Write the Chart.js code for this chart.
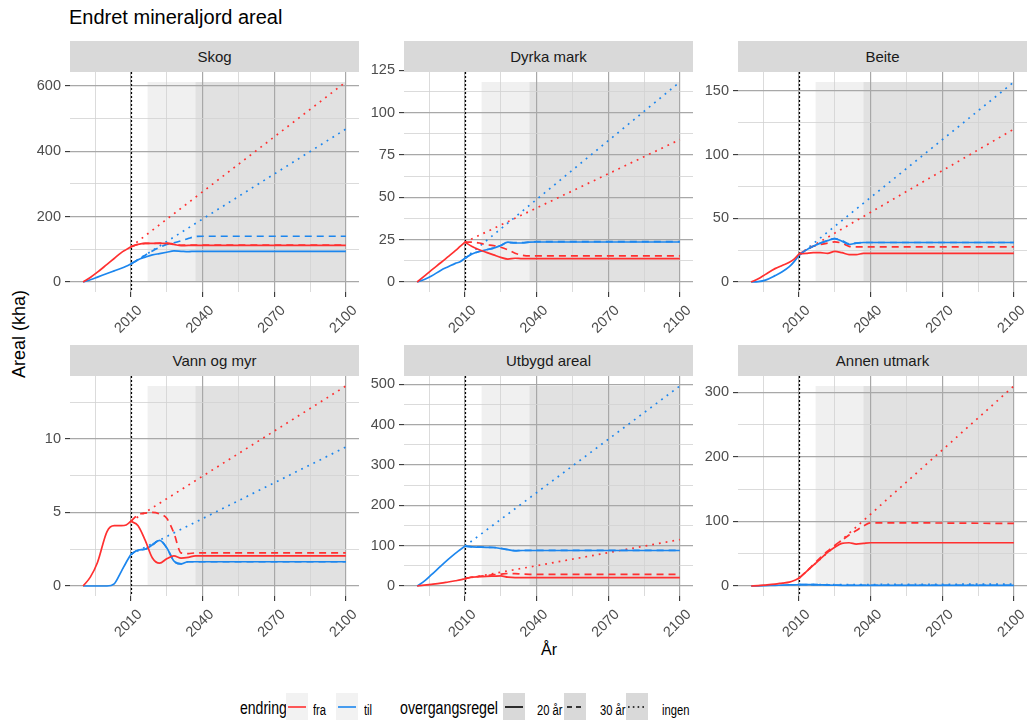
<!DOCTYPE html>
<html>
<head>
<meta charset="utf-8">
<script src="https://cdn.jsdelivr.net/npm/chart.js@4.4.1/dist/chart.umd.min.js"></script>
<style>
  body { margin: 0; width: 1027px; height: 720px; overflow: hidden; background: #fff; position: relative;
         font-family: "Liberation Sans", Arial, sans-serif; }
  canvas { position: absolute; }
  .strip { position: absolute; background: #d9d9d9; color: #1a1a1a; font-size: 15px; text-align: center; height: 31px; line-height: 31px; }
  .txt { position: absolute; white-space: nowrap; line-height: 1.15; }
  .leg { position: absolute; white-space: nowrap; line-height: 1.15; transform: scaleX(0.8); transform-origin: 0 0; color: #000; }
  .key { position: absolute; top: 693px; width: 22px; height: 28px; }
</style>
</head>
<body>
<div class="txt" style="left:69px;top:6px;font-size:20px;color:#000">Endret mineraljord areal</div>
<div class="txt" style="left:549px;top:641px;font-size:16px;color:#000;transform:translateX(-50%)">År</div>
<div class="txt" style="left:19px;top:334px;font-size:18px;color:#000;transform:translate(-50%,-50%) rotate(-90deg)">Areal (kha)</div>

<div class="leg" style="left:240px;top:698px;font-size:18px;transform:scaleX(0.78)">endring</div>
<div class="key" style="left:286px;background:#f2f2f2"><svg width="22" height="28"><line x1="2" x2="20" y1="14" y2="14" stroke="#ff3030" stroke-width="1.6"/></svg></div>
<div class="leg" style="left:313px;top:702px;font-size:14px">fra</div>
<div class="key" style="left:336px;background:#f2f2f2"><svg width="22" height="28"><line x1="2" x2="20" y1="14" y2="14" stroke="#1c86ee" stroke-width="1.6"/></svg></div>
<div class="leg" style="left:364px;top:702px;font-size:14px">til</div>
<div class="leg" style="left:400px;top:698px;font-size:18px;transform:scaleX(0.79)">overgangsregel</div>
<div class="key" style="left:503px;background:#d9d9d9"><svg width="22" height="28"><line x1="2" x2="20" y1="14" y2="14" stroke="#000" stroke-width="1.6"/></svg></div>
<div class="leg" style="left:537px;top:702px;font-size:14px">20 år</div>
<div class="key" style="left:564px;background:#d9d9d9"><svg width="22" height="28"><line x1="3" x2="20" y1="14" y2="14" stroke="#000" stroke-width="1.6" stroke-dasharray="5 4"/></svg></div>
<div class="leg" style="left:600px;top:702px;font-size:14px">30 år</div>
<div class="key" style="left:626px;background:#d9d9d9"><svg width="22" height="28"><line x1="2" x2="21" y1="14" y2="14" stroke="#000" stroke-width="1.6" stroke-dasharray="1.6 3.2"/></svg></div>
<div class="leg" style="left:662px;top:702px;font-size:14px">ingen</div>

<script>
// years
const histYears = [1990, 1993, 1996, 2000, 2003, 2006, 2008, 2010];
const futYears = [2010, 2013, 2016, 2019, 2022, 2025, 2028, 2031, 2034, 2037, 2040, 2100];
const ingenYears = [2010, 2100];
const xMajor = [2010, 2040, 2070, 2100];
const xMinor = [1995, 2025, 2055, 2085];
const shadeYears = [2017, 2037, 2100];

// Skog
const skogFraHist = [0, 14, 30, 54, 72, 90, 99, 108];
const skogTilHist = [0, 7, 15, 26, 34, 42, 48, 55];
const skogFra20 = [108, 115, 118, 118, 118, 118, 115, 111, 112, 112, 112, 112];
const skogFra30 = [108, 115, 118, 118, 119, 119, 116, 113, 113, 113, 113, 113];
const skogTil20 = [55, 68, 76, 83, 87, 91, 95, 94, 93, 94, 94, 94];
const skogTil30 = [55, 68, 82, 95, 106, 115, 120, 126, 133, 139, 140, 140];
const skogFraIngen = [108, 612];
const skogTilIngen = [55, 468];
const skogMajor = [0, 200, 400, 600];
const skogMinor = [100, 300, 500];

// Dyrka mark
const dyrkaFraHist = [0, 3.5, 7, 11.5, 15, 18.5, 21, 23.5];
const dyrkaTilHist = [0, 1.5, 3.5, 7, 9, 11, 12, 14];
const dyrkaFra20 = [23.5, 21, 19, 17.5, 16, 14.5, 13.5, 14, 13.8, 13.8, 13.8, 13.8];
const dyrkaFra30 = [23.5, 23.5, 23, 22, 21.5, 20.5, 19, 17, 15.8, 15.4, 15.4, 15.4];
const dyrkaTil20 = [14, 16.5, 18, 19, 20, 21.5, 23.5, 23, 23, 23.5, 23.6, 23.6];
const dyrkaTil30 = [14, 16.5, 18, 19, 20, 21.5, 23.3, 23.2, 23.3, 23.6, 23.8, 23.8];
const dyrkaFraIngen = [23.5, 84];
const dyrkaTilIngen = [14, 118];
const dyrkaMajor = [0, 25, 50, 75, 100, 125];
const dyrkaMinor = [12.5, 37.5, 62.5, 87.5, 112.5];

// Beite
const beiteFraHist = [0, 2.5, 6, 10.5, 13, 15.5, 18, 22];
const beiteTilHist = [0, 0.3, 1.5, 5, 8, 12, 16, 21];
const beiteFra20 = [22, 22.5, 23, 23, 22.5, 24, 23, 21.5, 21.5, 22.4, 22.4, 22.4];
const beiteFra30 = [22, 25, 28, 29.5, 30.5, 31.5, 30.5, 28, 27.5, 27.6, 27.6, 27.6];
const beiteTil20 = [21, 25, 28, 30.5, 32.5, 34, 32, 29.5, 30.5, 31, 31, 31];
const beiteTil30 = [21, 25, 28, 30.5, 32.5, 34, 32.5, 30, 30.5, 31, 31, 31];
const beiteFraIngen = [22, 120];
const beiteTilIngen = [21, 157];
const beiteMajor = [0, 50, 100, 150];
const beiteMinor = [25, 75, 125];

// Vann og myr
const vannFraHist = [0, 0.6, 1.6, 3.7, 4.1, 4.1, 4.15, 4.4];
const vannTilHist = [0, 0, 0, 0, 0.15, 1.0, 1.6, 2.15];
const vannFra20 = [4.4, 4.1, 3.1, 1.9, 1.55, 1.85, 2.05, 1.9, 1.95, 2.05, 2.05, 2.05];
const vannFra30 = [4.4, 4.85, 4.95, 5.0, 4.9, 4.6, 3.6, 2.25, 2.2, 2.25, 2.25, 2.25];
const vannTil20 = [2.15, 2.45, 2.5, 2.8, 3.1, 2.6, 1.7, 1.5, 1.65, 1.65, 1.65, 1.65];
const vannTil30 = [2.15, 2.45, 2.5, 2.8, 3.1, 2.6, 1.7, 1.5, 1.65, 1.65, 1.65, 1.65];
const vannFraIngen = [4.4, 13.6];
const vannTilIngen = [2.15, 9.45];
const vannMajor = [0, 5, 10];
const vannMinor = [2.5, 7.5, 12.5];

// Utbygd areal
const utbygdFraHist = [0, 2, 4, 7, 10, 13, 15, 18];
const utbygdTilHist = [0, 12, 28, 50, 66, 81, 90, 99];
const utbygdFra20 = [18, 22, 23, 24, 24.5, 25, 22, 21, 21, 21, 21, 21];
const utbygdFra30 = [18, 22, 24, 26, 28, 29.5, 31, 30.5, 29.5, 29, 29, 29];
const utbygdTil20 = [99, 97, 96.5, 96, 95.5, 93, 90, 87, 88, 88, 88, 88];
const utbygdTil30 = [99, 97, 96.5, 96, 95.5, 93.5, 90.5, 88, 88, 88.5, 88.5, 88.5];
const utbygdFraIngen = [18, 115];
const utbygdTilIngen = [99, 496];
const utbygdMajor = [0, 100, 200, 300, 400, 500];
const utbygdMinor = [50, 150, 250, 350, 450];

// Annen utmark
const annenFraHist = [0, 0.5, 1.5, 3, 4.5, 6, 8.5, 12];
const annenTilHist = [0, 0.3, 0.6, 1, 1.3, 1.6, 1.8, 2];
const annenFra20 = [12, 22, 32, 42, 52, 60, 66, 67, 65, 66, 67, 67];
const annenFra30 = [12, 22, 33, 44, 54, 63, 71, 79, 86, 93, 98, 97];
const annenTil20 = [2, 2, 2, 1.8, 1.5, 1.2, 1, 1, 1, 1, 1, 1];
const annenTil30 = [2, 2, 2, 2, 1.8, 1.5, 1.2, 1.2, 1.2, 1.2, 1.2, 1.2];
const annenFraIngen = [12, 310];
const annenTilIngen = [2, 3];
const annenMajor = [0, 100, 200, 300];
const annenMinor = [50, 150, 250];

const panels = [
  { name: 'Skog', fraHist: skogFraHist, tilHist: skogTilHist, fra20: skogFra20, fra30: skogFra30, til20: skogTil20, til30: skogTil30, fraIngen: skogFraIngen, tilIngen: skogTilIngen, major: skogMajor, minor: skogMinor },
  { name: 'Dyrka mark', fraHist: dyrkaFraHist, tilHist: dyrkaTilHist, fra20: dyrkaFra20, fra30: dyrkaFra30, til20: dyrkaTil20, til30: dyrkaTil30, fraIngen: dyrkaFraIngen, tilIngen: dyrkaTilIngen, major: dyrkaMajor, minor: dyrkaMinor },
  { name: 'Beite', fraHist: beiteFraHist, tilHist: beiteTilHist, fra20: beiteFra20, fra30: beiteFra30, til20: beiteTil20, til30: beiteTil30, fraIngen: beiteFraIngen, tilIngen: beiteTilIngen, major: beiteMajor, minor: beiteMinor },
  { name: 'Vann og myr', fraHist: vannFraHist, tilHist: vannTilHist, fra20: vannFra20, fra30: vannFra30, til20: vannTil20, til30: vannTil30, fraIngen: vannFraIngen, tilIngen: vannTilIngen, major: vannMajor, minor: vannMinor },
  { name: 'Utbygd areal', fraHist: utbygdFraHist, tilHist: utbygdTilHist, fra20: utbygdFra20, fra30: utbygdFra30, til20: utbygdTil20, til30: utbygdTil30, fraIngen: utbygdFraIngen, tilIngen: utbygdTilIngen, major: utbygdMajor, minor: utbygdMinor },
  { name: 'Annen utmark', fraHist: annenFraHist, tilHist: annenTilHist, fra20: annenFra20, fra30: annenFra30, til20: annenTil20, til30: annenTil30, fraIngen: annenFraIngen, tilIngen: annenTilIngen, major: annenMajor, minor: annenMinor },
];

const RED = '#ff3030';
const BLUE = '#1c86ee';
const DASH = [7, 5];
const DOT = [1.8, 5];
const FAMILY = "'Liberation Sans', Arial, sans-serif";

const colLeft = [70, 404, 738];
const rowTop = [72, 376];
const panelW = 289, panelH = 220, axisW = 50, axisH = 45, padTop = 12, padRight = 6;

Chart.defaults.font.family = FAMILY;

// shaded transition periods + dotted 2010 line
const bands = {
  id: 'bands',
  beforeDraw(chart, args, opts) {
    const { ctx, scales: { x, y } } = chart;
    const yTop = y.getPixelForValue(opts.top);
    const yBot = y.getPixelForValue(0);
    const x0 = x.getPixelForValue(shadeYears[0]);
    const x1 = x.getPixelForValue(shadeYears[1]);
    const x2 = x.getPixelForValue(shadeYears[2]);
    ctx.save();
    ctx.fillStyle = '#f0f0f0';
    ctx.fillRect(x0, yTop, x1 - x0, yBot - yTop);
    ctx.fillStyle = '#e1e1e1';
    ctx.fillRect(x1, yTop, x2 - x1, yBot - yTop);
    ctx.restore();
  },
  beforeDatasetsDraw(chart) {
    const { ctx, chartArea: a, scales: { x } } = chart;
    const px = Math.round(x.getPixelForValue(2010)) + 0.5;
    ctx.save();
    ctx.strokeStyle = '#000';
    ctx.lineWidth = 1.2;
    ctx.setLineDash([2, 2]);
    ctx.beginPath();
    ctx.moveTo(px, a.top);
    ctx.lineTo(px, a.bottom);
    ctx.stroke();
    ctx.restore();
  }
};

function series(xs, ys) {
  return xs.map((x, k) => ({ x: x, y: ys[k] }));
}

function line(data, color, dash, mode) {
  return { data: data, borderColor: color, borderWidth: 1.7, borderDash: dash, pointRadius: 0,
           cubicInterpolationMode: mode, fill: false };
}

panels.forEach((p, i) => {
  const left = colLeft[i % 3];
  const top = rowTop[Math.floor(i / 3)];

  const canvas = document.createElement('canvas');
  canvas.width = axisW + panelW + padRight;
  canvas.height = padTop + panelH + axisH;
  canvas.style.left = (left - axisW) + 'px';
  canvas.style.top = (top - padTop) + 'px';
  document.body.appendChild(canvas);

  const strip = document.createElement('div');
  strip.className = 'strip';
  strip.style.left = left + 'px';
  strip.style.top = (top - 31) + 'px';
  strip.style.width = panelW + 'px';
  strip.textContent = p.name;
  document.body.appendChild(strip);

  const all = [].concat(p.fraHist, p.tilHist, p.fra20, p.fra30, p.til20, p.til30, p.fraIngen, p.tilIngen);
  const yMax = Math.max(...all);
  const yMin = Math.min(0, ...all);
  const span = yMax - yMin;
  const yTicks = p.major.concat(p.minor).sort((a, b) => a - b);
  const xTicks = xMajor.concat(xMinor).sort((a, b) => a - b);

  new Chart(canvas, {
    type: 'line',
    data: {
      datasets: [
        line(series(histYears, p.fraHist), RED, [], 'monotone'),
        line(series(histYears, p.tilHist), BLUE, [], 'monotone'),
        line(series(futYears, p.fra20), RED, [], 'monotone'),
        line(series(futYears, p.til20), BLUE, [], 'monotone'),
        line(series(futYears, p.fra30), RED, DASH, 'monotone'),
        line(series(futYears, p.til30), BLUE, DASH, 'monotone'),
        line(series(ingenYears, p.fraIngen), RED, DOT, 'default'),
        line(series(ingenYears, p.tilIngen), BLUE, DOT, 'default')
      ]
    },
    options: {
      responsive: false,
      animation: false,
      devicePixelRatio: 1,
      layout: { padding: { top: padTop, right: padRight, left: 0, bottom: 0 } },
      plugins: { legend: { display: false }, tooltip: { enabled: false }, bands: { top: yMax } },
      scales: {
        x: {
          type: 'linear',
          min: 1990 - 0.05 * 110,
          max: 2100 + 0.05 * 110,
          afterBuildTicks: s => { s.ticks = xTicks.map(v => ({ value: v })); },
          afterFit: s => { s.height = axisH; s.paddingLeft = 0; s.paddingRight = 0; },
          ticks: {
            autoSkip: false, minRotation: 45, maxRotation: 45, padding: 5, labelOffset: 9,
            color: '#4d4d4d', font: { size: 14.5 },
            callback: v => xMajor.includes(v) ? String(v) : ''
          },
          grid: {
            color: c => xMajor.includes(c.tick.value) ? '#a8a8a8' : '#d2d2d2',
            lineWidth: c => xMajor.includes(c.tick.value) ? 1.2 : 0.8,
            tickLength: 5,
            tickWidth: 1.1,
            tickColor: c => xMajor.includes(c.tick.value) ? '#333333' : 'rgba(0,0,0,0)'
          },
          border: { display: false }
        },
        y: {
          type: 'linear',
          min: yMin - 0.05 * span,
          max: yMax + 0.05 * span,
          afterBuildTicks: s => { s.ticks = yTicks.map(v => ({ value: v })); },
          afterFit: s => { s.width = axisW; s.paddingTop = 0; s.paddingBottom = 0; },
          ticks: {
            autoSkip: false, padding: 4,
            color: '#4d4d4d', font: { size: 14.5 },
            callback: v => p.major.includes(v) ? String(v) : ''
          },
          grid: {
            color: c => p.major.includes(c.tick.value) ? '#a8a8a8' : '#d2d2d2',
            lineWidth: c => p.major.includes(c.tick.value) ? 1.2 : 0.8,
            tickLength: 5,
            tickWidth: 1.1,
            tickColor: c => p.major.includes(c.tick.value) ? '#333333' : 'rgba(0,0,0,0)'
          },
          border: { display: false }
        }
      }
    },
    plugins: [bands]
  });
});
</script>
</body>
</html>
